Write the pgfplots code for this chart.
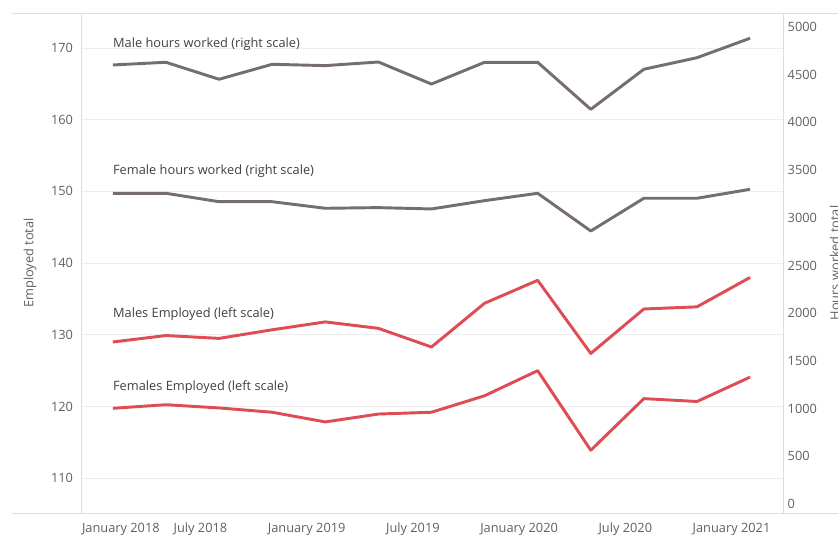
\documentclass[border=0pt]{standalone}
\usepackage{pgfplots}
\pgfplotsset{compat=1.18}
\usepackage{fontspec}
\setmainfont{Open Sans}
\definecolor{redl}{RGB}{222,76,84}
\definecolor{grayl}{RGB}{118,110,109}
\definecolor{gridc}{RGB}{238,238,238}
\definecolor{axc}{RGB}{222,222,222}
\definecolor{tickc}{RGB}{96,96,96}
\definecolor{annc}{RGB}{64,64,64}
\begin{document}
\begin{tikzpicture}
\pgfplotsset{common/.style={scale only axis, width=526.5pt, height=375pt,
  xmin=-0.6, xmax=12.62, major tick length=0pt,
  tick label style={font=\fontsize{9.6}{11}\selectfont, text=tickc},
  /pgf/number format/assume math mode=true, /pgf/number format/1000 sep={}}}
\begin{axis}[common, name=ax, ymin=105.15, ymax=174.88,
  ytick={110,120,130,140,150,160,170}, ymajorgrids,
  grid style={gridc, line width=0.7pt},
  axis line style={axc, line width=0.7pt},
  xtick={0.15,1.65,3.65,5.65,7.65,9.65,11.65},
  xticklabels={January 2018,July 2018,January 2019,July 2019,January 2020,July 2020,January 2021},
  xticklabel style={yshift=-4pt},
  yticklabel style={xshift=-2.5pt}]
\addplot[redl, line width=2.2pt, line join=round] coordinates {
(0,129.0) (1,129.9) (2,129.5) (3,130.7) (4,131.8) (5,130.9) (6,128.3)
(7,134.4) (8,137.6) (9,127.4) (10,133.6) (11,133.9) (12,138.0)};
\addplot[redl, line width=2.2pt, line join=round] coordinates {
(0,119.75) (1,120.25) (2,119.8) (3,119.2) (4,117.85) (5,118.95) (6,119.2)
(7,121.5) (8,125.0) (9,113.9) (10,121.1) (11,120.7) (12,124.1)};
\node[anchor=west, inner sep=0pt, font=\fontsize{9.6}{11}\selectfont, text=annc] at (axis cs:0,170.56) {Male hours worked (right scale)};
\node[anchor=west, inner sep=0pt, font=\fontsize{9.6}{11}\selectfont, text=annc] at (axis cs:0,152.85) {Female hours worked (right scale)};
\node[anchor=west, inner sep=0pt, font=\fontsize{9.6}{11}\selectfont, text=annc] at (axis cs:0,132.9) {Males Employed (left scale)};
\node[anchor=west, inner sep=0pt, font=\fontsize{9.6}{11}\selectfont, text=annc] at (axis cs:0,122.7) {Females Employed (left scale)};
\end{axis}
\begin{axis}[common, axis x line=none, axis y line*=right,
  ymin=-93.3, ymax=5146.7, ytick={0,500,1000,1500,2000,2500,3000,3500,4000,4500,5000},
  axis line style={axc, line width=0.7pt},
  yticklabel style={anchor=west, xshift=0pt}]
\addplot[grayl, line width=2.2pt, line join=round] coordinates {
(0,4602) (1,4630) (2,4452) (3,4609) (4,4595) (5,4633) (6,4402)
(7,4630) (8,4630) (9,4137) (10,4557) (11,4678) (12,4882)};
\addplot[grayl, line width=2.2pt, line join=round] coordinates {
(0,3257) (1,3257) (2,3169) (3,3169) (4,3100) (5,3107) (6,3093)
(7,3180) (8,3257) (9,2862) (10,3205) (11,3205) (12,3299)};
\end{axis}
\draw[axc, line width=0.7pt] ([xshift=-51.75pt]ax.north west) -- ([xshift=41.25pt]ax.north east);
\draw[axc, line width=0.7pt] ([xshift=-51.75pt]ax.south west) -- ([xshift=41.25pt]ax.south east);
\node[rotate=90, font=\fontsize{9.6}{11}\selectfont, text=tickc] at ([xshift=-38.25pt]ax.west) {Employed total};
\node[rotate=90, anchor=north, inner sep=0pt, font=\fontsize{9.6}{11}\selectfont, text=tickc] at ([xshift=35pt]ax.east) {Hours worked total};
\pgfresetboundingbox
\path ([xshift=-60.75pt,yshift=-18pt]ax.south west) rectangle ([xshift=41.25pt,yshift=9.75pt]ax.north east);
\end{tikzpicture}
\end{document}
